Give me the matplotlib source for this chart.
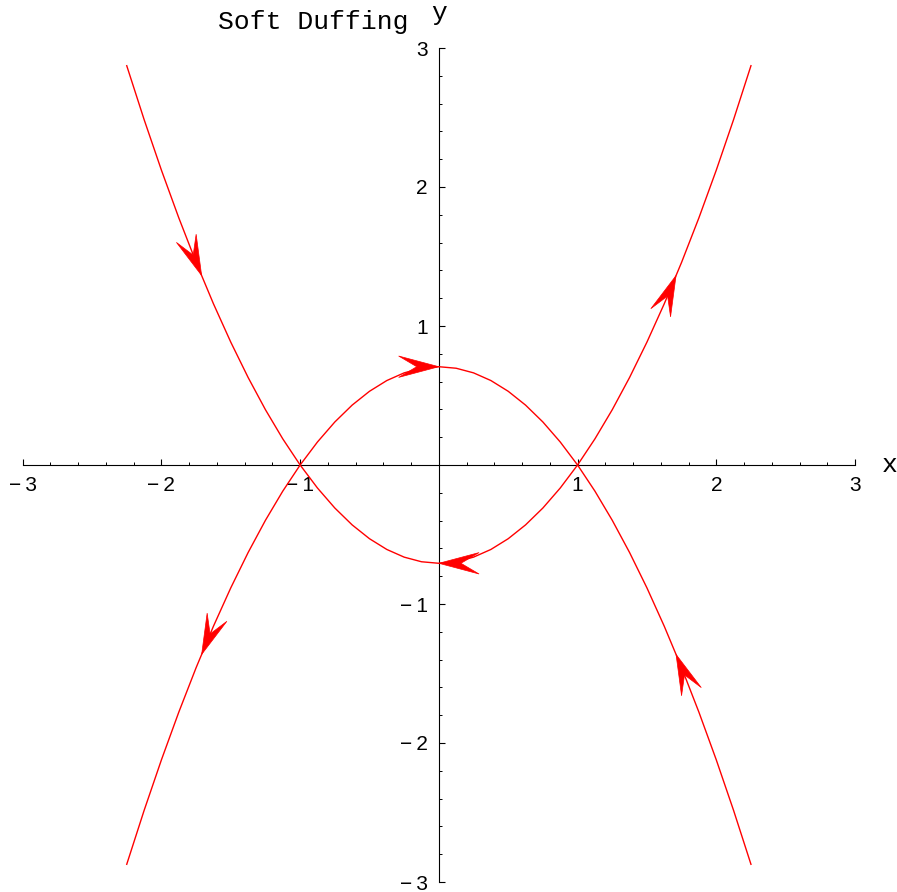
import numpy as np
import matplotlib
matplotlib.use("Agg")
import matplotlib.pyplot as plt
from matplotlib.patches import Polygon
from matplotlib.ticker import FixedLocator, MultipleLocator, FuncFormatter

# separatrix of the soft Duffing oscillator, sampled along x
xs = [-2.25, -2.125, -2.0, -1.875, -1.75, -1.625, -1.5, -1.375, -1.25, -1.125,
      -1.0, -0.875, -0.75, -0.625, -0.5, -0.375, -0.25, -0.125, 0.0,
      0.125, 0.25, 0.375, 0.5, 0.625, 0.75, 0.875, 1.0,
      1.125, 1.25, 1.375, 1.5, 1.625, 1.75, 1.875, 2.0, 2.125, 2.25]
upper = [-2.8726, -2.4859, -2.1213, -1.7788, -1.4584, -1.1601, -0.8839, -0.6298,
         -0.3977, -0.1878, 0.0, 0.1657, 0.3094, 0.4309, 0.5303, 0.6077, 0.6629,
         0.6961, 0.7071, 0.6961, 0.6629, 0.6077, 0.5303, 0.4309, 0.3094, 0.1657,
         0.0, -0.1878, -0.3977, -0.6298, -0.8839, -1.1601, -1.4584, -1.7788,
         -2.1213, -2.4859, -2.8726]
lower = [2.8726, 2.4859, 2.1213, 1.7788, 1.4584, 1.1601, 0.8839, 0.6298,
         0.3977, 0.1878, 0.0, -0.1657, -0.3094, -0.4309, -0.5303, -0.6077, -0.6629,
         -0.6961, -0.7071, -0.6961, -0.6629, -0.6077, -0.5303, -0.4309, -0.3094, -0.1657,
         0.0, 0.1878, 0.3977, 0.6298, 0.8839, 1.1601, 1.4584, 1.7788,
         2.1213, 2.4859, 2.8726]
arrow_x = [-1.71, 0.0, 1.71]

tick_major = [-3, -2, -1, 1, 2, 3]

mono = ["Liberation Mono", "DejaVu Sans Mono"]
sans = ["Liberation Sans", "DejaVu Sans"]

fig = plt.figure(figsize=(8.97, 8.92), dpi=100)
ax = fig.add_axes([22.7 / 897, 10 / 892, 832.3 / 897, 834 / 892])
ax.set_xlim(-3, 3)
ax.set_ylim(-3, 3)

red = "#ff0000"
L, W, notch = 0.29, 0.077, 0.55

def arrowhead(x0, xv, yv):
    xv = np.asarray(xv)
    yv = np.asarray(yv)
    y0 = np.interp(x0, xv, yv)
    slope = np.interp(x0, xv, np.gradient(yv, xv))
    # flow x' = y sets which way we travel along the curve
    d = np.sign(y0) * np.array([1.0, slope])
    d /= np.hypot(*d)
    n = np.array([-d[1], d[0]])
    tip = np.array([x0, y0])
    pts = [tip, tip - L * d + W * n, tip - notch * L * d, tip - L * d - W * n]
    ax.add_patch(Polygon(pts, closed=True, fc=red, ec=red, lw=0.5, zorder=4))

for yv in (upper, lower):
    ax.plot(xs, yv, color=red, lw=1.0, zorder=3)
    for x0 in arrow_x:
        arrowhead(x0, xs, yv)

# axes through the origin
for side in ("top", "right"):
    ax.spines[side].set_visible(False)
ax.spines["left"].set_position(("data", 0))
ax.spines["bottom"].set_position(("data", 0))
for side in ("left", "bottom"):
    ax.spines[side].set_linewidth(0.8)

ax.xaxis.set_major_locator(FixedLocator(tick_major))
ax.yaxis.set_major_locator(FixedLocator(tick_major))
ax.xaxis.set_minor_locator(MultipleLocator(0.2))
ax.yaxis.set_minor_locator(MultipleLocator(0.2))
fmt = FuncFormatter(lambda v, p: ("\u2212\u2009%d" % -v) if v < 0 else "%d" % v)
ax.xaxis.set_major_formatter(fmt)
ax.yaxis.set_major_formatter(fmt)
ax.tick_params(which="major", direction="in", length=4, width=0.8, labelsize=15, pad=8)
ax.tick_params(which="minor", direction="in", length=2.3, width=0.7)
for lab in ax.get_xticklabels() + ax.get_yticklabels():
    lab.set_family(sans)

ax.annotate("y", xy=(0, 3), xytext=(0, 28), textcoords="offset pixels",
            ha="center", va="baseline", fontsize=19, family=mono)
ax.annotate("x", xy=(3, 0), xytext=(35, -7), textcoords="offset pixels",
            ha="center", va="baseline", fontsize=19, family=mono)
fig.text(218 / 897, 1 - 29 / 892, "Soft Duffing", ha="left", va="baseline",
         fontsize=19, family=mono)

fig.savefig("out.png", dpi=100)
